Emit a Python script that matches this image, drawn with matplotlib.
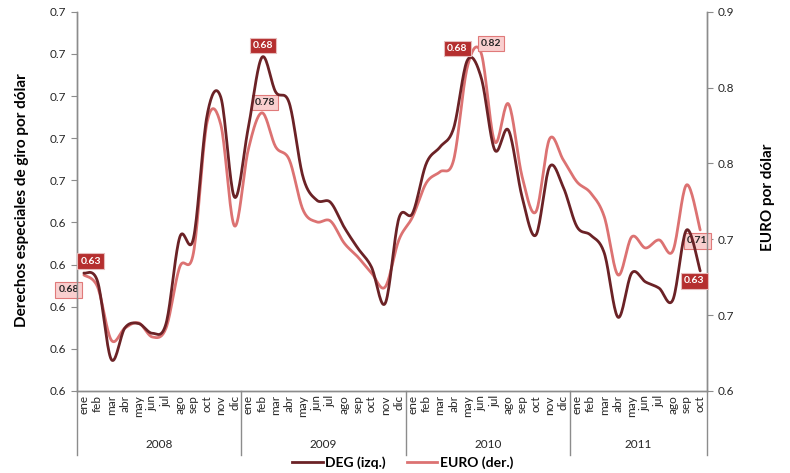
import numpy as np
import matplotlib
matplotlib.use('Agg')
import matplotlib.pyplot as plt
from matplotlib.ticker import FuncFormatter
from matplotlib.lines import Line2D
import matplotlib.transforms as mtransforms

plt.rcParams['font.family'] = ['Lato', 'DejaVu Sans']

###################################################################################################
# Data: monthly exchange rates, ene 2008 - oct 2011

years = ['2008', '2009', '2010', '2011']
months_per_year = [12, 12, 12, 10]
month_names = ['ene', 'feb', 'mar', 'abr', 'may', 'jun', 'jul', 'ago', 'sep', 'oct', 'nov', 'dic']

# DEG por dólar (left axis)
deg = [0.628, 0.626, 0.6075, 0.615, 0.616, 0.6137, 0.616, 0.6365, 0.6362, 0.6655, 0.6697, 0.646,
       0.6624, 0.6792, 0.671, 0.6683, 0.6508, 0.6453, 0.6448, 0.6389, 0.6339, 0.6294, 0.6208, 0.641,
       0.6422, 0.654, 0.6579, 0.6624, 0.6785, 0.6745, 0.6572, 0.6619, 0.646, 0.637, 0.6532, 0.6484,
       0.639, 0.637, 0.6327, 0.6175, 0.628, 0.6259, 0.6244, 0.6216, 0.6382, 0.6285]

# EURO por dólar (right axis)
euro = [0.6765, 0.6686, 0.6336, 0.6415, 0.6449, 0.6356, 0.6415, 0.6818, 0.691, 0.7774, 0.7755, 0.7088,
        0.759, 0.7834, 0.761, 0.7524, 0.7194, 0.7115, 0.7121, 0.6976, 0.6884, 0.6778, 0.6686, 0.6996,
        0.7148, 0.7372, 0.7445, 0.7524, 0.8137, 0.823, 0.7643, 0.7893, 0.7412, 0.7181, 0.7662, 0.7524,
        0.7379, 0.7306, 0.7148, 0.6765, 0.7016, 0.6943, 0.6996, 0.6923, 0.7359, 0.7062]

# points that carry a value label: (index, offset in pixels)
deg_labels = [(0, (7, 12)), (13, (1, 12)), (28, (-10, 12)), (45, (-6, -10))]
euro_labels = [(0, (-15, -15)), (13, (3, 10)), (29, (10, 9)), (45, (-3, -11))]

months = []
for n in months_per_year:
    months += month_names[:n]
x = np.arange(len(months))

deg_color = '#6b2226'
euro_color = '#dc7272'
axis_grey = '#8c8c8c'


def smooth(xs, ys, n=20):
    # Catmull-Rom style bezier smoothing between consecutive points
    xs = np.asarray(xs, float)
    ys = np.asarray(ys, float)
    P = np.column_stack([xs, ys])
    P = np.vstack([P[0], P, P[-1]])
    out = []
    t = np.linspace(0, 1, n)[:, None]
    for i in range(1, len(P) - 2):
        p0, p1, p2, p3 = P[i - 1], P[i], P[i + 1], P[i + 2]
        c1 = p1 + (p2 - p0) / 6.0
        c2 = p2 - (p3 - p1) / 6.0
        seg = ((1 - t) ** 3) * p1 + 3 * ((1 - t) ** 2) * t * c1 + 3 * (1 - t) * t ** 2 * c2 + t ** 3 * p2
        out.append(seg if i == 1 else seg[1:])
    out = np.vstack(out)
    return out[:, 0], out[:, 1]


def round_half_up(v, pos):
    return '%.1f' % (np.floor(v * 10 + 0.5 + 1e-9) / 10)


###################################################################################################
# Plot

fig = plt.figure(figsize=(7.9, 4.73), dpi=100)
ax = fig.add_axes([0.0975, 0.1734, 0.7975, 0.8016])
ax2 = ax.twinx()

sx, sy = smooth(x, deg)
ax.plot(sx, sy, color=deg_color, lw=2.0, solid_capstyle='round', zorder=3)
sx, sy = smooth(x, euro)
ax2.plot(sx, sy, color=euro_color, lw=2.0, solid_capstyle='round', zorder=2)

ax.set_xlim(-0.5, len(months) - 0.5)
ax.set_ylim(0.60, 0.69)
ax2.set_ylim(0.60, 0.85)
ax.set_yticks(np.linspace(0.60, 0.69, 10))
ax2.set_yticks(np.linspace(0.60, 0.85, 6))
ax.yaxis.set_major_formatter(FuncFormatter(round_half_up))
ax2.yaxis.set_major_formatter(FuncFormatter(round_half_up))

ax.set_xticks(x)
ax.set_xticklabels(months, rotation=90, fontsize=8.5, color='#262626')
ax.tick_params(axis='x', length=0, pad=3)
ax.tick_params(axis='y', length=4, color=axis_grey, labelsize=8.5, labelcolor='#262626', direction='out')
ax2.tick_params(axis='y', length=4, color=axis_grey, labelsize=8.5, labelcolor='#262626', direction='out')

for a in (ax, ax2):
    a.spines['top'].set_visible(False)
    for s in ('left', 'right', 'bottom'):
        a.spines[s].set_color(axis_grey)
        a.spines[s].set_linewidth(1.0)
ax.set_zorder(ax2.get_zorder() + 1)
ax.patch.set_visible(False)

# year groups under the month labels
trans = mtransforms.blended_transform_factory(ax.transData, ax.transAxes)
bounds = np.concatenate([[0], np.cumsum(months_per_year)]) - 0.5
for b in bounds:
    ax.plot([b, b], [0, -0.17], transform=trans, color=axis_grey, lw=1.0, clip_on=False)
for i, yr in enumerate(years):
    ax.text((bounds[i] + bounds[i + 1]) / 2, -0.14, yr, transform=trans,
            ha='center', va='center', fontsize=8.5, color='#262626')

# value labels
for i, off in deg_labels:
    ax.annotate('%.2f' % deg[i], (x[i], deg[i]), xytext=off, textcoords='offset pixels',
                ha='center', va='center', fontsize=7.5, fontweight='bold', color='white', zorder=6,
                bbox=dict(boxstyle='square,pad=0.3', fc='#b52f2f', ec='#e6bcbc', lw=0.8))
for i, off in euro_labels:
    ax2.annotate('%.2f' % euro[i], (x[i], euro[i]), xytext=off, textcoords='offset pixels',
                 ha='center', va='center', fontsize=7.5, fontweight='bold', color='#262626', zorder=6,
                 bbox=dict(boxstyle='square,pad=0.3', fc='#f9cfcf', ec='#e07a7a', lw=0.8))

fig.text(0.028, 0.577, 'Derechos especiales de giro por dólar', rotation=90,
         ha='center', va='center', fontsize=11, fontweight='bold', color='black')
fig.text(0.972, 0.583, 'EURO por dólar', rotation=90,
         ha='center', va='center', fontsize=11, fontweight='bold', color='black')

handles = [Line2D([], [], color=deg_color, lw=2.0), Line2D([], [], color=euro_color, lw=2.0)]
fig.legend(handles, ['DEG (izq.)', 'EURO (der.)'], loc='center', bbox_to_anchor=(0.51, 0.022),
           ncol=2, frameon=False, handlelength=2.2, handletextpad=0.2, columnspacing=1.5,
           prop={'weight': 'bold', 'size': 10})

fig.savefig('out.png', dpi=100)
